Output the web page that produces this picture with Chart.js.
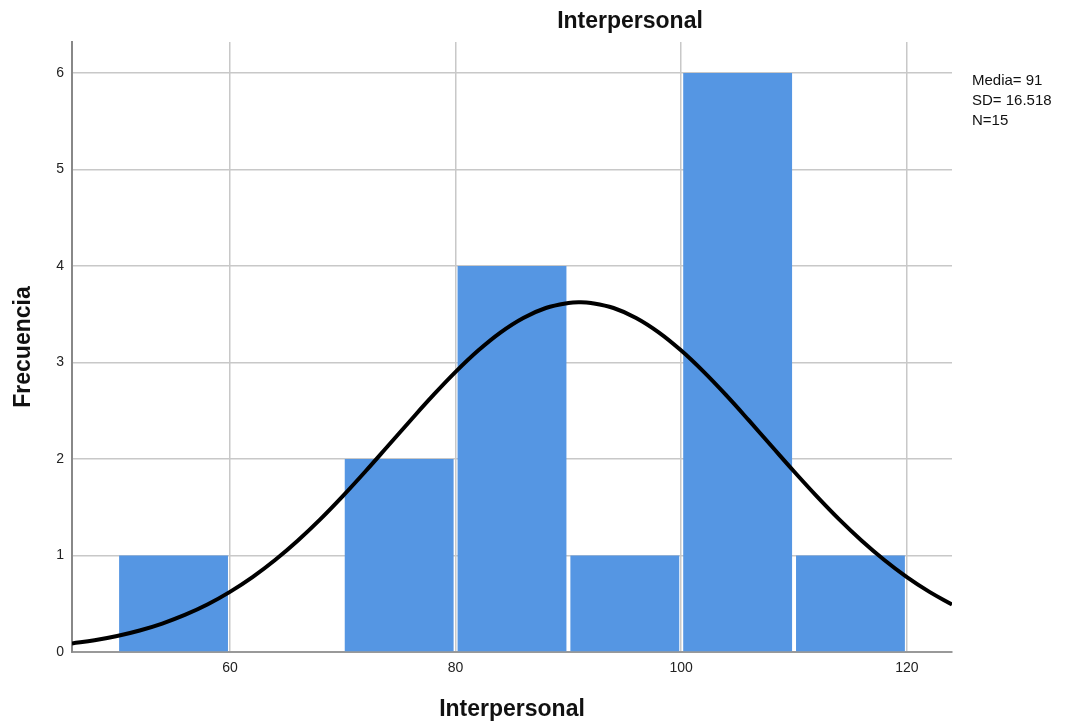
<!DOCTYPE html>
<html>
<head>
<meta charset="utf-8">
<script src="https://cdn.jsdelivr.net/npm/chart.js@4/dist/chart.umd.min.js"></script>
<style>
  html, body { margin: 0; padding: 0; background: #fff; }
  #wrap { position: relative; width: 1074px; height: 727px; }
  #title { position: absolute; left: 0; width: 1260px; top: 7px; text-align: center;
    font: bold 23px "Liberation Sans", Arial, sans-serif; color: #111; }
  #stats { position: absolute; left: 972px; top: 70px;
    font: 15px "Liberation Sans", Arial, sans-serif; color: #111; line-height: 20px; }
</style>
</head>
<body>
<div id="wrap">
  <canvas id="mainChart" width="1074" height="727"></canvas>
  <div id="title">Interpersonal</div>
  <div id="stats">Media= 91<br>SD= 16.518<br>N=15</div>
</div>
<script>
// histogram bins (centre of each 10-wide bin) and counts
var binCenters = [55, 65, 75, 85, 95, 105, 115];
var counts = [1, 0, 2, 4, 1, 6, 1];

// normal curve
var curveX = [46, 48, 50, 52, 54, 56, 58, 60, 62, 64, 66, 68, 70, 72, 74, 76, 78, 80, 82, 84,
  86, 88, 90, 91, 92, 94, 96, 98, 100, 102, 104, 106, 108, 110, 112, 114, 116, 118, 120, 122, 124];
var curveY = [0.089, 0.122, 0.166, 0.223, 0.295, 0.384, 0.492, 0.623, 0.776, 0.953, 1.153, 1.374,
  1.615, 1.870, 2.134, 2.399, 2.658, 2.902, 3.123, 3.312, 3.461, 3.564, 3.616, 3.623, 3.616, 3.564,
  3.461, 3.312, 3.123, 2.902, 2.658, 2.399, 2.134, 1.870, 1.615, 1.374, 1.153, 0.953, 0.776, 0.623, 0.492];

var yTicks = [0, 1, 2, 3, 4, 5, 6];
var xTicks = [60, 80, 100, 120];

var font = '"Liberation Sans", Arial, sans-serif';
var ctx = document.getElementById('mainChart');

var myChart = new Chart(ctx, {
  data: {
    datasets: [{
      type: 'line',
      data: curveX.map(function (x, i) { return { x: x, y: curveY[i] }; }),
      borderColor: '#000',
      borderWidth: 4,
      pointRadius: 0,
      tension: 0.4,
      fill: false,
      order: 0
    }, {
      type: 'bar',
      data: binCenters.map(function (x, i) { return { x: x, y: counts[i] }; }),
      backgroundColor: '#5596e3',
      borderWidth: 0,
      barPercentage: 0.965,
      categoryPercentage: 1,
      order: 1
    }]
  },
  options: {
    responsive: false,
    animation: false,
    layout: { padding: { top: 42, right: 122, left: 0, bottom: 0 } },
    plugins: { legend: { display: false }, tooltip: { enabled: false } },
    scales: {
      x: {
        type: 'linear',
        min: 46,
        max: 124,
        offset: false,
        afterBuildTicks: function (scale) {
          scale.ticks = xTicks.map(function (v) { return { value: v }; });
        },
        afterFit: function (scale) { scale.height = 75; },
        ticks: { color: '#222', font: { family: font, size: 14 }, padding: 8, maxRotation: 0 },
        grid: { color: '#c8c8c8', lineWidth: 1.5, drawTicks: false, offset: false },
        border: { display: true, color: '#999', width: 2 },
        title: { display: true, text: 'Interpersonal', color: '#111',
          font: { family: font, size: 23, weight: 'bold' }, padding: { top: 22 } }
      },
      y: {
        min: 0,
        max: 6.32,
        afterBuildTicks: function (scale) {
          scale.ticks = yTicks.map(function (v) { return { value: v }; });
        },
        afterFit: function (scale) { scale.width = 72; },
        ticks: { color: '#222', font: { family: font, size: 14 }, padding: 8 },
        grid: { color: '#c8c8c8', lineWidth: 1.5, drawTicks: false },
        border: { display: true, color: '#888', width: 2 },
        title: { display: true, text: 'Frecuencia', color: '#111',
          font: { family: font, size: 23, weight: 'bold' }, padding: { top: 10, bottom: 10 } }
      }
    }
  }
});
</script>
</body>
</html>
